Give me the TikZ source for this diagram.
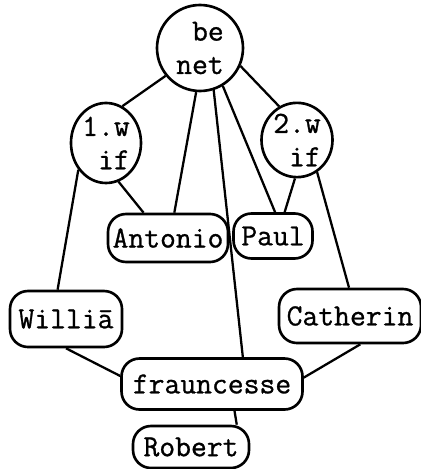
\documentclass[tikz,border=0pt]{standalone}
\usepackage{fontspec}
\newfontfamily\tw{Latin Modern Mono}[FakeBold=0.9]
\usetikzlibrary{shapes.geometric}
\begin{document}
\begin{tikzpicture}[x=0.02cm,y=-0.02cm,
  every node/.style={font=\tw\fontsize{17.5}{19}\selectfont},
  blob/.style={draw,line width=1.5pt,inner sep=0pt,align=right},
  namebox/.style={draw,line width=1.5pt,rectangle,rounded corners=0.36cm,inner sep=0pt},
  link/.style={line width=1.3pt}]
\useasboundingbox (0,0) rectangle (421,469);
\node[blob,circle,minimum size=86*0.02cm] (benet) at (200,48) {be\\net};
\node[blob,ellipse,minimum width=70*0.02cm,minimum height=80*0.02cm] (w1) at (106,143) {1.w\\if};
\node[blob,ellipse,minimum width=71*0.02cm,minimum height=74*0.02cm] (w2) at (297,140) {2.w\\if};
\node[namebox,minimum width=120*0.02cm,minimum height=48*0.02cm] (ant) at (168,238) {Antonio};
\node[namebox,minimum width=79*0.02cm,minimum height=45*0.02cm] (paul) at (273,236) {Paul};
\node[namebox,minimum width=112*0.02cm,minimum height=56*0.02cm] (will) at (66,319) {Willi\=a};
\node[namebox,minimum width=142*0.02cm,minimum height=54*0.02cm] (cath) at (350,316) {Catherin};
\node[namebox,minimum width=181*0.02cm,minimum height=51*0.02cm] (fr) at (212,384) {frauncesse};
\node[namebox,minimum width=116*0.02cm,minimum height=42*0.02cm] (rob) at (191,447) {Robert};
\draw[link] (benet.-141) -- (w1.66);
\draw[link] (benet.-95) -- (ant.76);
\draw[link] (benet.-72) -- (fr.41);
\draw[link] (benet.-59) -- (paul.85);
\draw[link] (benet.-24) -- (w2.118);
\draw[link] (w1.-72) -- (ant.134);
\draw[link] (w1.-136) -- (will.106);
\draw[link] (w2.-93) -- (paul.64);
\draw[link] (w2.-58) -- (cath.92);
\draw[link] (will.-90) -- (fr.175);
\draw[link] (cath.-70) -- (fr.4);
\draw[link] (fr.-50) -- (rob.26);
\end{tikzpicture}
\end{document}
